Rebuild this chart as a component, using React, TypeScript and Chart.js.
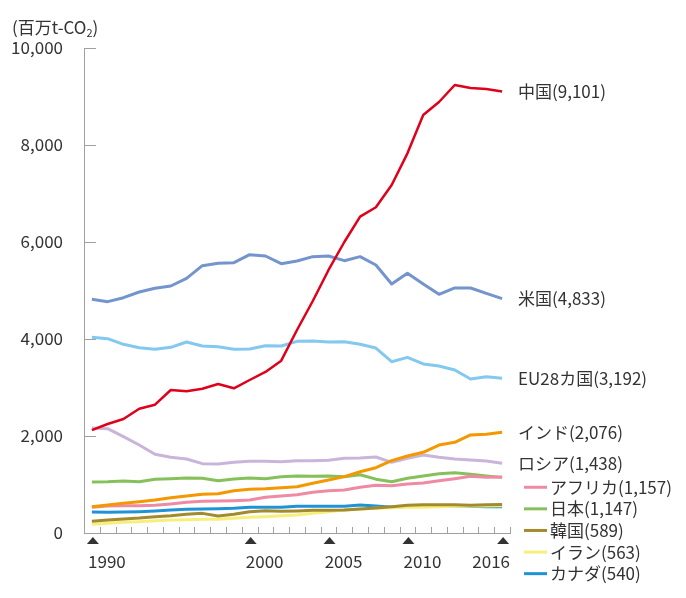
import React, { useEffect, useRef } from "react";
import { Chart, registerables } from "chart.js";

Chart.register(...registerables);

const FONT = '"Noto Sans CJK JP", "Noto Sans", sans-serif';
const TEXT = "#333333";
const AXIS = "#a0a0a0";

const years = ["1990","1991","1992","1993","1994","1995","1996","1997","1998","1999","2000","2001","2002","2003","2004","2005","2006","2007","2008","2009","2010","2011","2012","2013","2014","2015","2016"];

const china  = [2120,2247,2350,2563,2646,2948,2921,2975,3072,2983,3155,3320,3553,4186,4783,5423,6000,6522,6716,7175,7828,8619,8887,9237,9175,9155,9101];
const usa    = [4819,4770,4852,4969,5045,5093,5251,5512,5560,5574,5739,5711,5553,5608,5698,5711,5615,5698,5526,5134,5354,5134,4921,5052,5052,4942,4833];
const eu28   = [4034,4007,3890,3821,3787,3828,3938,3856,3842,3787,3794,3862,3856,3952,3959,3938,3945,3890,3814,3532,3622,3485,3443,3361,3175,3223,3192];
const india  = [543,577,612,646,680,728,763,798,811,873,901,914,935,955,1025,1093,1162,1264,1346,1491,1588,1664,1814,1870,2021,2035,2076];
const russia = [2165,2151,1986,1814,1622,1560,1526,1430,1423,1457,1478,1478,1471,1491,1491,1498,1540,1546,1567,1457,1540,1608,1560,1526,1505,1484,1438];
const africa = [530,557,563,563,570,598,632,653,660,667,680,735,763,790,838,873,887,942,983,976,1010,1031,1079,1120,1168,1148,1157];
const japan  = [1052,1058,1072,1058,1107,1120,1134,1127,1079,1113,1134,1120,1162,1175,1168,1175,1162,1202,1110,1058,1127,1175,1223,1244,1210,1175,1147];
const korea  = [241,268,289,309,337,357,385,405,351,385,440,460,447,454,467,467,474,495,515,543,570,584,584,584,570,584,589];
const iran   = [179,200,220,234,254,268,275,282,282,302,323,337,357,371,405,440,474,495,508,522,529,529,543,550,557,557,563];
const canada = [433,426,433,440,454,474,488,495,501,508,529,529,529,550,550,550,550,577,557,530,550,563,557,563,550,543,540];

const seriesNames  = ["中国","米国","EU28カ国","インド","ロシア","アフリカ","日本","韓国","イラン","カナダ"];
const seriesLabels = ["中国(9,101)","米国(4,833)","EU28カ国(3,192)","インド(2,076)","ロシア(1,438)","アフリカ(1,157)","日本(1,147)","韓国(589)","イラン(563)","カナダ(540)"];
const seriesData   = [china, usa, eu28, india, russia, africa, japan, korea, iran, canada];
const seriesColors = ["#e0001b","#7394cc","#82c8ef","#f39800","#c9b5d9","#ee8aa3","#86c05a","#a48a2e","#f7ef7c","#1f93d6"];
const seriesWidths = [2.5,3,3,3,3,3,3,3,3,3];
const directLabelCount = 5; // first five labelled at their end value, rest as a legend list

const yTicks = [0, 2000, 4000, 6000, 8000, 10000];
const markedYears = ["1990","2000","2005","2010","2016"];
const yUnitMain = "(百万t-CO";
const yUnitSub = "2";
const yUnitEnd = ")";

const overlay = {
  id: "overlay",
  afterDraw(chart: any) {
    const { ctx, chartArea } = chart;
    const xs = chart.scales.x;
    const ys = chart.scales.y;
    ctx.save();
    // inner y ticks
    ctx.strokeStyle = AXIS;
    ctx.lineWidth = 1;
    yTicks.forEach((v) => {
      if (v === 0) return;
      const y = Math.round(ys.getPixelForValue(v)) + 0.5;
      ctx.beginPath();
      ctx.moveTo(chartArea.left, y);
      ctx.lineTo(chartArea.left + 12, y);
      ctx.stroke();
    });
    // x ticks at category boundaries
    const n = years.length;
    for (let i = 0; i < n; i++) {
      const a = xs.getPixelForValue(i);
      const b = i < n - 1 ? xs.getPixelForValue(i + 1) : a + (a - xs.getPixelForValue(i - 1));
      const x = Math.round((a + b) / 2) + 0.5;
      ctx.beginPath();
      ctx.moveTo(x, chartArea.bottom);
      ctx.lineTo(x, chartArea.bottom - 6);
      ctx.stroke();
    }
    // triangles and year labels
    ctx.fillStyle = TEXT;
    ctx.font = `17px ${FONT}`;
    ctx.textBaseline = "middle";
    markedYears.forEach((yr, k) => {
      const idx = years.indexOf(yr);
      const x = xs.getPixelForValue(idx) + 1;
      const top = chartArea.bottom + 4;
      ctx.beginPath();
      ctx.moveTo(x, top);
      ctx.lineTo(x + 6, top + 7);
      ctx.lineTo(x - 6, top + 7);
      ctx.closePath();
      ctx.fill();
      const ly = chartArea.bottom + 29;
      if (k === markedYears.length - 1) {
        ctx.textAlign = "right";
        ctx.fillText(yr, chartArea.right, ly);
      } else {
        ctx.textAlign = "center";
        ctx.fillText(yr, x + 14, ly);
      }
    });
    // y unit title
    ctx.textAlign = "left";
    ctx.font = `17px ${FONT}`;
    let tx = 12;
    const ty = 28;
    ctx.fillText(yUnitMain, tx, ty);
    tx += ctx.measureText(yUnitMain).width;
    ctx.font = `11px ${FONT}`;
    ctx.fillText(yUnitSub, tx, ty + 5);
    tx += ctx.measureText(yUnitSub).width;
    ctx.font = `17px ${FONT}`;
    ctx.fillText(yUnitEnd, tx, ty);
    // right labels
    const lx = chartArea.right + 8;
    let lastY = 0;
    seriesLabels.forEach((lab, i) => {
      const data = seriesData[i];
      if (i < directLabelCount) {
        const y = ys.getPixelForValue(data[data.length - 1]);
        lastY = y;
        ctx.fillStyle = TEXT;
        ctx.fillText(lab, lx, y);
      } else {
        const y = lastY + 24 + (i - directLabelCount) * 21.6;
        ctx.strokeStyle = seriesColors[i];
        ctx.lineWidth = 3;
        ctx.beginPath();
        ctx.moveTo(lx + 6, y);
        ctx.lineTo(lx + 29, y);
        ctx.stroke();
        ctx.fillStyle = TEXT;
        ctx.fillText(lab, lx + 32, y);
      }
    });
    ctx.restore();
  },
};

export default function App() {
  const ref = useRef<HTMLCanvasElement | null>(null);
  useEffect(() => {
    if (!ref.current) return;
    const chart = new Chart(ref.current, {
      type: "line",
      data: {
        labels: years,
        datasets: seriesData.map((d, i) => ({
          label: seriesNames[i],
          data: d,
          borderColor: seriesColors[i],
          backgroundColor: seriesColors[i],
          borderWidth: seriesWidths[i],
          pointRadius: 0,
          tension: 0,
          fill: false,
          borderJoinStyle: "round" as const,
        })),
      },
      options: {
        animation: false,
        responsive: false,
        events: [],
        layout: { padding: { top: 48, right: 176, left: 0, bottom: 0 } },
        plugins: { legend: { display: false }, tooltip: { enabled: false } },
        scales: {
          x: {
            type: "category",
            offset: true,
            grid: { display: false, drawTicks: false },
            border: { display: true, color: AXIS, width: 1 },
            ticks: { display: false },
            afterFit: (s: any) => { s.height = 65; },
          },
          y: {
            min: 0,
            max: 10000,
            grid: { display: false, drawTicks: false },
            border: { display: true, color: AXIS, width: 1 },
            ticks: {
              stepSize: 2000,
              padding: 21,
              color: TEXT,
              font: { family: FONT, size: 17 },
              callback: (v: any) => Number(v).toLocaleString("en-US"),
            },
            afterFit: (s: any) => { s.width = 84; },
          },
        },
      },
      plugins: [overlay],
    });
    return () => chart.destroy();
  }, []);
  return (
    <div style={{ position: "absolute", left: 0, top: 0, width: 686, height: 598 }}>
      <canvas ref={ref} width={686} height={598} style={{ display: "block" }} />
    </div>
  );
}
